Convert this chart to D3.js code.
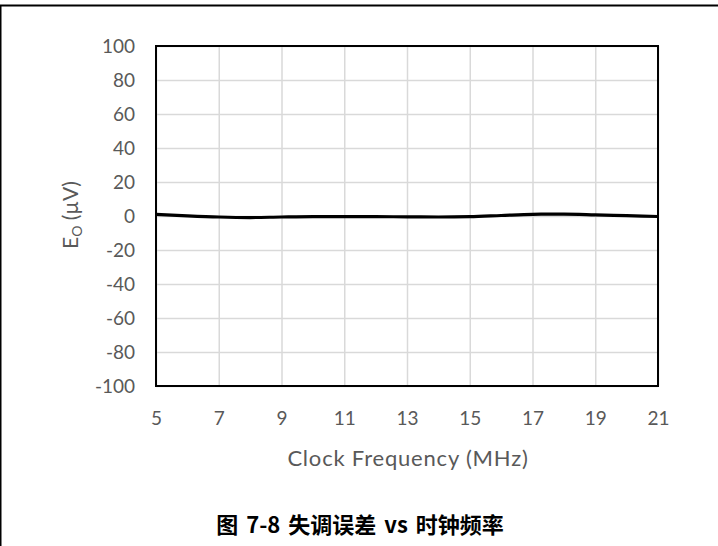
<!DOCTYPE html>
<html>
<head>
<meta charset="utf-8">
<script src="https://cdn.jsdelivr.net/npm/d3@7"></script>
<style>
  body { margin: 0; background: #fff; }
  svg { display: block; }
</style>
</head>
<body>
<div id="canvas"></div>
<script>
// clock frequency (MHz) and offset error (uV)
var freq = [5, 6, 7, 8, 9, 10, 11, 12, 13, 14, 15, 16, 17, 18, 19, 20, 21];
var offset = [1.0, 0.1, -0.6, -0.9, -0.6, -0.4, -0.4, -0.4, -0.5, -0.6, -0.4, 0.3, 1.0, 1.1, 0.7, 0.2, -0.3];

var xTicks = [5, 7, 9, 11, 13, 15, 17, 19, 21];
var yTicks = [100, 80, 60, 40, 20, 0, -20, -40, -60, -80, -100];

var xTitle = "Clock Frequency (MHz)";
var caption = "图 7-8 失调误差 vs 时钟频率";

var width = 718, height = 546;
var plotLeft = 156, plotRight = 658, plotTop = 46, plotBottom = 386;
var grey = "#595959";
var latin = "Lato, 'Open Sans', sans-serif";

var svg = d3.select("#canvas")
  .append("svg")
  .attr("width", width)
  .attr("height", height);

// outer frame (top and left edges only)
svg.append("line")
  .attr("x1", 0).attr("x2", width)
  .attr("y1", 5.5).attr("y2", 5.5)
  .attr("stroke", "#000").attr("stroke-width", 2);
svg.append("line")
  .attr("x1", 0.5).attr("x2", 0.5)
  .attr("y1", 5).attr("y2", height)
  .attr("stroke", "#000").attr("stroke-width", 2);

var x = d3.scaleLinear().domain([5, 21]).range([plotLeft, plotRight]);
var y = d3.scaleLinear().domain([-100, 100]).range([plotBottom, plotTop]);

// gridlines
svg.append("g")
  .attr("transform", "translate(0," + plotBottom + ")")
  .call(d3.axisBottom(x).tickValues(xTicks).tickSize(-(plotBottom - plotTop)).tickFormat(""))
  .call(function(g) { g.select(".domain").remove(); })
  .selectAll("line")
    .attr("stroke", "#d9d9d9").attr("stroke-width", 1.5);

svg.append("g")
  .attr("transform", "translate(" + plotLeft + ",0)")
  .call(d3.axisLeft(y).tickValues(yTicks).tickSize(-(plotRight - plotLeft)).tickFormat(""))
  .call(function(g) { g.select(".domain").remove(); })
  .selectAll("line")
    .attr("stroke", "#d9d9d9").attr("stroke-width", 1.5);

// tick labels (plain hyphen for negatives, like the original)
var plain = function(d) { return String(d); };

var xAxis = svg.append("g")
  .attr("transform", "translate(0," + plotBottom + ")")
  .call(d3.axisBottom(x).tickValues(xTicks).tickFormat(plain).tickSize(0).tickPadding(26));
xAxis.select(".domain").remove();
xAxis.selectAll("text")
  .attr("fill", grey)
  .style("font-family", latin)
  .style("font-size", "19px");

var yAxis = svg.append("g")
  .attr("transform", "translate(" + plotLeft + ",0)")
  .call(d3.axisLeft(y).tickValues(yTicks).tickFormat(plain).tickSize(0).tickPadding(21));
yAxis.select(".domain").remove();
yAxis.selectAll("text")
  .attr("fill", grey)
  .style("font-family", latin)
  .style("font-size", "19px");

// plot border
svg.append("rect")
  .attr("x", plotLeft).attr("y", plotTop)
  .attr("width", plotRight - plotLeft).attr("height", plotBottom - plotTop)
  .attr("fill", "none")
  .attr("stroke", "#000").attr("stroke-width", 2);

// the curve
var line = d3.line()
  .x(function(d, i) { return x(freq[i]); })
  .y(function(d) { return y(d); })
  .curve(d3.curveMonotoneX);

svg.append("path")
  .datum(offset)
  .attr("d", line)
  .attr("fill", "none")
  .attr("stroke", "#000")
  .attr("stroke-width", 3.2);

// axis titles
svg.append("text")
  .attr("x", (plotLeft + plotRight) / 2 + 1)
  .attr("y", 466)
  .attr("text-anchor", "middle")
  .attr("fill", grey)
  .style("font-family", latin)
  .style("font-size", "22px")
  .style("letter-spacing", "0.8px")
  .text(xTitle);

var yt = svg.append("text")
  .attr("transform", "translate(78,215) rotate(-90)")
  .attr("text-anchor", "middle")
  .attr("fill", grey)
  .style("font-family", latin)
  .style("font-size", "21px");
yt.append("tspan").text("E");
yt.append("tspan").attr("dy", 4).style("font-size", "14px").text("O");
yt.append("tspan").attr("dy", -4).text(" (\u00b5V)");

// caption
svg.append("text")
  .attr("x", 360)
  .attr("y", 533)
  .attr("text-anchor", "middle")
  .attr("fill", "#000")
  .style("font-family", "'Noto Sans CJK SC', sans-serif")
  .style("font-weight", "bold")
  .style("font-size", "22px")
  .style("word-spacing", "3px")
  .text(caption);
</script>
</body>
</html>
